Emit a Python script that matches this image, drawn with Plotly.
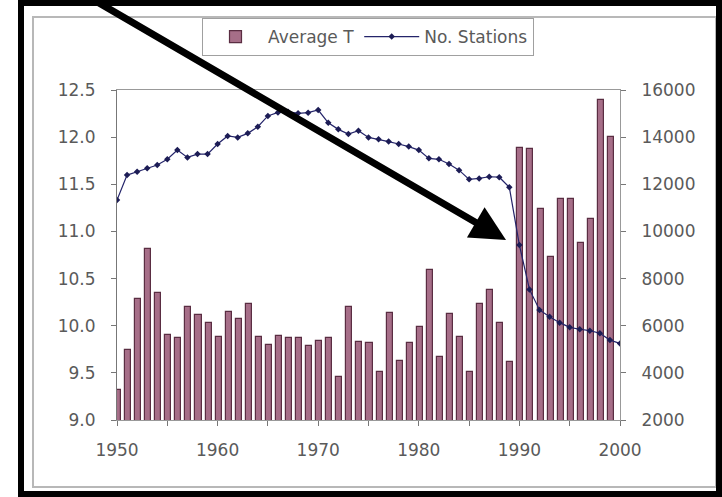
import plotly.graph_objects as go

# Average temperature (bars, left axis), 1950-1999
bar_years = list(range(1950, 2000))
avg_temp = [
    9.32, 9.74, 10.28, 10.81, 10.35, 9.90, 9.87, 10.20, 10.11, 10.03,
    9.88, 10.15, 10.07, 10.23, 9.88, 9.80, 9.89, 9.87, 9.87, 9.79,
    9.84, 9.87, 9.46, 10.20, 9.83, 9.82, 9.51, 10.13, 9.63, 9.82,
    9.99, 10.59, 9.67, 10.12, 9.88, 9.51, 10.23, 10.38, 10.03, 9.62,
    11.89, 11.87, 11.24, 10.73, 11.34, 11.34, 10.88, 11.13, 12.39, 12.00,
]

# Number of stations (line, right axis), 1950-2000
line_years = list(range(1950, 2001))
stations = [
    11330, 12390, 12530, 12680, 12820, 13060, 13450, 13140, 13280, 13280,
    13710, 14050, 13990, 14160, 14440, 14900, 15050, 15080, 15010, 15040,
    15150, 14610, 14330, 14130, 14270, 13990, 13910, 13810, 13710, 13600,
    13450, 13100, 13060, 12860, 12600, 12210, 12250, 12320, 12300, 11870,
    9420, 7540, 6670, 6380, 6130, 5930, 5850, 5790, 5680, 5390,
    5250,
]

x_ticks = [1950, 1960, 1970, 1980, 1990, 2000]
left_ticks = [9.0, 9.5, 10.0, 10.5, 11.0, 11.5, 12.0, 12.5]
right_ticks = [2000, 4000, 6000, 8000, 10000, 12000, 14000, 16000]

W, H = 722, 497
L, R, T, B = 117, 620, 90, 420  # plot area in pixels


def px(x):
    return (x - L) / (R - L)


def py(y):
    return (B - y) / (B - T)


tick_font = dict(family="DejaVu Sans", size=17, color="#5a5a5a")

fig = go.Figure()

fig.add_trace(go.Bar(
    x=bar_years, y=avg_temp, name="Average T",
    width=0.6, offset=-0.2,
    marker=dict(color="#a66e88", line=dict(color="#5a2d42", width=1.2)),
))

fig.add_trace(go.Scatter(
    x=line_years, y=stations, name="No. Stations", yaxis="y2",
    mode="lines+markers",
    line=dict(color="#24246a", width=1.2),
    marker=dict(symbol="diamond", size=5, color="#1c1c55"),
))

fig.update_layout(
    width=W, height=H,
    margin=dict(l=L, r=W - R, t=T, b=H - B),
    paper_bgcolor="white", plot_bgcolor="white",
    showlegend=True,
    legend=dict(
        orientation="h", x=px(368), xanchor="center", y=py(18), yanchor="top",
        font=dict(family="DejaVu Sans", size=17, color="#5a5a5a"),
        bordercolor="#a0a0a0", borderwidth=1, bgcolor="white",
        itemwidth=55,
    ),
    bargap=0,
    xaxis=dict(
        range=[1950, 2000], tickvals=x_ticks, ticks="outside", ticklen=5,
        tickcolor="#777", showline=True, linecolor="#999", mirror=True,
        showgrid=False, zeroline=False, tickfont=tick_font,
        ticklabelstandoff=10,
        minor=dict(dtick=5, ticks="outside", ticklen=5, tickcolor="#777"),
    ),
    yaxis=dict(
        range=[9.0, 12.5], tickvals=left_ticks, tickformat=".1f",
        ticks="outside", ticklen=5, tickcolor="#777",
        showline=True, linecolor="#777", showgrid=False, zeroline=False,
        tickfont=tick_font, ticklabelstandoff=12,
    ),
    yaxis2=dict(
        range=[2000, 16000], tickvals=right_ticks, tickformat="d",
        overlaying="y", side="right",
        ticks="outside", ticklen=5, tickcolor="#777",
        showline=True, linecolor="#999", showgrid=False, zeroline=False,
        tickfont=tick_font, ticklabelstandoff=12,
    ),
    shapes=[
        # light grey chart-area frame
        dict(type="rect", xref="paper", yref="paper",
             x0=px(33), x1=px(716), y0=py(487), y1=py(17),
             line=dict(color="#b8b8b8", width=2), layer="below"),
        # thick black outer frame
        dict(type="rect", xref="paper", yref="paper",
             x0=px(21), x1=px(719), y0=py(494), y1=py(3),
             line=dict(color="black", width=6)),
    ],
    annotations=[
        dict(x=px(506), y=py(240), xref="paper", yref="paper",
             ax=-412, ay=-246, axref="pixel", ayref="pixel",
             showarrow=True, arrowhead=2, arrowsize=1, arrowwidth=7,
             arrowcolor="black", text=""),
    ],
)

# drop the default page margin so the figure sits at the window origin
fig.write_html(
    "out.html",
    config={"displayModeBar": False},
    post_script="document.body.style.margin='0';",
)
